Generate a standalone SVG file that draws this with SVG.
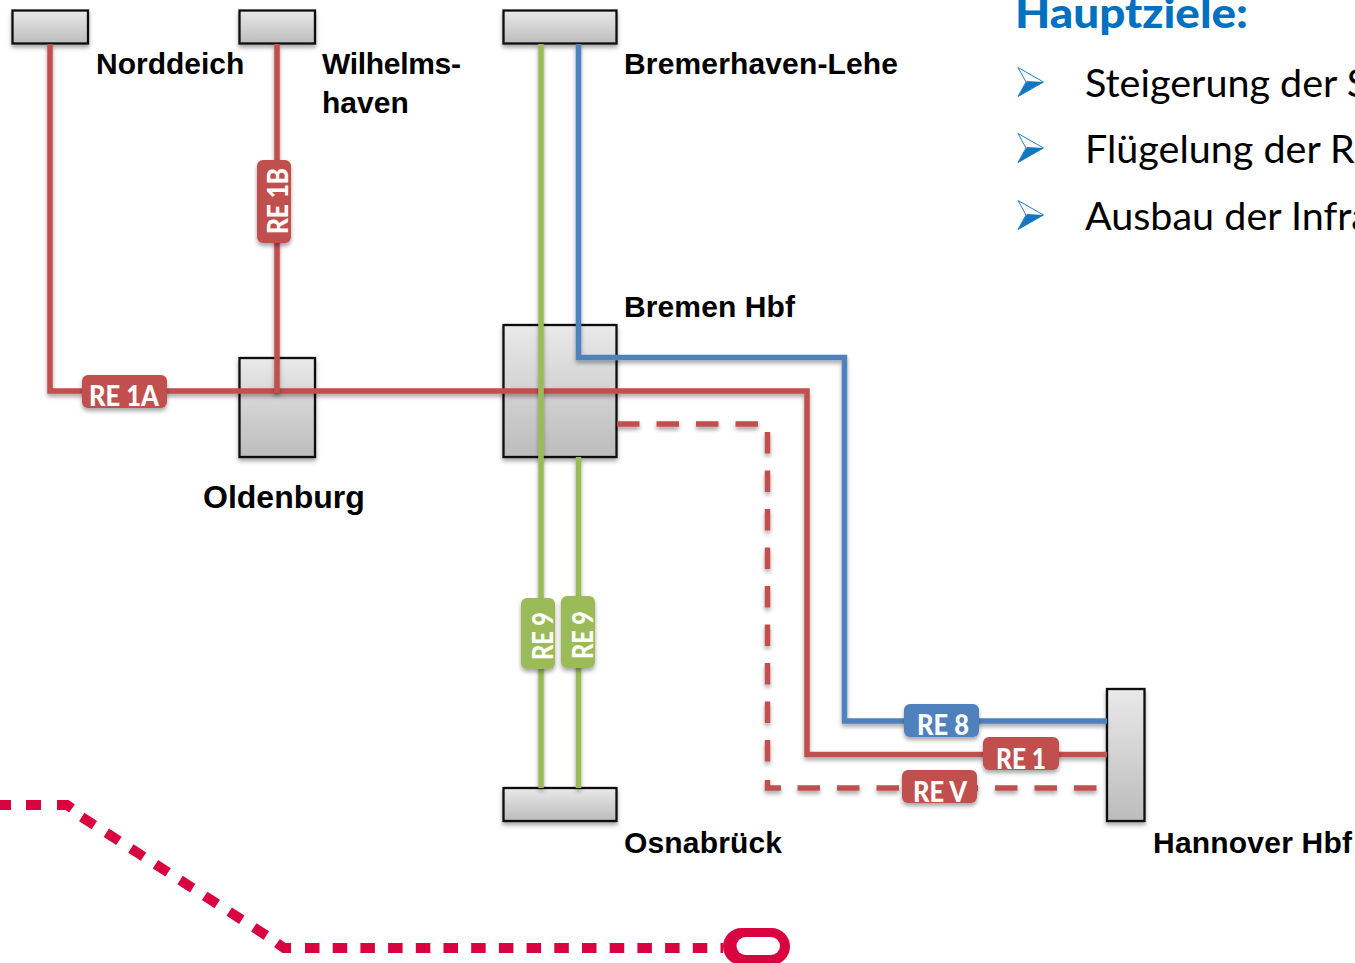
<svg xmlns="http://www.w3.org/2000/svg" xmlns:xlink="http://www.w3.org/1999/xlink" width="1355" height="963" viewBox="0 0 1355 963">
<style>
.box{fill:url(#g);stroke:#0d0d0d;stroke-width:2.3;filter:url(#s)}
.ln{fill:none;stroke-width:5.5;stroke-linejoin:miter;filter:url(#sl)}
.r{stroke:#C0504D}.b{stroke:#4F81BD}.gr{stroke:#9BBB59}
.pill{filter:url(#s)}
.pt{font-family:"Lato","Liberation Sans",sans-serif;font-weight:900;font-size:29px;fill:#fff}
.st{font-family:"Liberation Sans",Arial,sans-serif;font-weight:700;font-size:30px;fill:#000}
.bt{font-family:"Lato","Open Sans",sans-serif;font-size:39.5px;fill:#000}
.dot{fill:none;stroke:#D9043F;stroke-width:10}
</style>
<defs>
<linearGradient id="g" x1="0" y1="0" x2="0" y2="1"><stop offset="0" stop-color="#e9e9e9"/><stop offset="1" stop-color="#bcbcbc"/></linearGradient>
<filter id="s" x="-30%" y="-30%" width="160%" height="160%" filterUnits="objectBoundingBox"><feDropShadow dx="0" dy="3" stdDeviation="2" flood-color="#000" flood-opacity="0.35"/></filter>
<filter id="sl" x="-20" y="-20" width="1400" height="1000" filterUnits="userSpaceOnUse"><feDropShadow dx="0" dy="3" stdDeviation="2" flood-color="#000" flood-opacity="0.35"/></filter>
<g id="arrow"><path d="M1 0.5 L26.5 15 L1 29.5 L9 15 Z" fill="#fff" stroke="#1F7FC4" stroke-width="1"/><path d="M1 29.5 L26.5 15 L10 14 Z" fill="#1477BD"/></g>
</defs>

<g id="route-dots">
<path class="dot" d="M-4,805 H11 M26,805 H41 M57,805 H67 L72,808.5"/>
<path class="dot" stroke-dasharray="15 14.2" d="M81.75,817 L275,941"/>
<path class="dot" d="M277,943 L284,948 H291"/>
<path class="dot" stroke-dasharray="14.5 13.2" d="M305,948 L723,948"/>
<rect x="723" y="928" width="67" height="37" rx="18.5" fill="#D9043F"/>
<rect x="736.5" y="937" width="43.5" height="18" rx="9" fill="#fff"/>
</g>

<g id="node-norddeich"><rect class="box" x="12.5" y="10.5" width="75.5" height="33"/><text class="st" x="96" y="74">Norddeich</text></g>
<g id="node-wilhelmshaven"><rect class="box" x="239.5" y="10.5" width="75.5" height="33"/><text class="st" x="322" y="74" textLength="139">Wilhelms-</text><text class="st" x="322" y="113">haven</text></g>
<g id="node-bremerhaven"><rect class="box" x="503.5" y="10.5" width="113" height="33"/><text class="st" x="624" y="74" textLength="274">Bremerhaven-Lehe</text></g>
<g id="node-oldenburg"><rect class="box" x="239.5" y="358" width="75.5" height="99"/><text class="st" x="203" y="508" style="font-size:32px">Oldenburg</text></g>
<g id="node-bremen"><rect class="box" x="503.5" y="325" width="113" height="132"/><text class="st" x="624" y="317" textLength="171">Bremen Hbf</text></g>
<g id="node-osnabrueck"><rect class="box" x="503.5" y="788" width="113" height="33"/><text class="st" x="624" y="853" textLength="158">Osnabrück</text></g>
<g id="node-hannover"><rect class="box" x="1107" y="689" width="37.5" height="132"/><text class="st" x="1153" y="853" textLength="199">Hannover Hbf</text></g>

<g id="connectors">
<path class="ln r" d="M50,44 V391 H807 V754.5 H1107"/>
<path class="ln r" d="M277,44 V393"/>
<path class="ln r" stroke-dasharray="22.5 17" d="M617,424 H758"/>
<path class="ln r" stroke-dasharray="21.5 17" d="M767.5,432 V762"/>
<path class="ln r" d="M767.5,780 V788 H781"/>
<path class="ln r" stroke-dasharray="22.5 17" d="M797.5,788 H1098"/>
<path class="ln b" d="M578.5,44 V357.5 H844.5 V721 H1107"/>
<path class="ln gr" d="M541,44 V788"/>
<path class="ln gr" d="M578.5,457 V788"/>
</g>

<g id="label-re1a"><rect class="pill" x="82" y="375" width="85" height="33" rx="6" fill="#C0504D"/><text class="pt" x="89" y="406" textLength="70" lengthAdjust="spacingAndGlyphs">RE 1A</text></g>
<g id="label-re1b"><rect class="pill" x="257" y="160" width="34" height="83" rx="6" fill="#C0504D"/><text class="pt" transform="translate(288,234) rotate(-90)" textLength="66" lengthAdjust="spacingAndGlyphs">RE 1B</text></g>
<g id="label-re9a"><rect class="pill" x="521" y="598" width="34" height="71" rx="6" fill="#9BBB59"/><text class="pt" transform="translate(552.5,660) rotate(-90)" textLength="48" lengthAdjust="spacingAndGlyphs">RE 9</text></g>
<g id="label-re9b"><rect class="pill" x="561" y="596" width="34" height="72" rx="6" fill="#9BBB59"/><text class="pt" transform="translate(592.5,659) rotate(-90)" textLength="48" lengthAdjust="spacingAndGlyphs">RE 9</text></g>
<g id="label-re8"><rect class="pill" x="904" y="704" width="75" height="33" rx="6" fill="#4F81BD"/><text class="pt" x="917" y="735" textLength="52" lengthAdjust="spacingAndGlyphs">RE 8</text></g>
<g id="label-re1"><rect class="pill" x="983" y="737" width="76" height="33" rx="6" fill="#C0504D"/><text class="pt" x="996" y="769" textLength="50" lengthAdjust="spacingAndGlyphs">RE 1</text></g>
<g id="label-rev"><rect class="pill" x="902" y="770" width="75" height="33" rx="6" fill="#C0504D"/><text class="pt" x="913" y="802" textLength="54" lengthAdjust="spacingAndGlyphs">RE V</text></g>

<g id="goals">
<text x="1015" y="28" font-family="Lato,'Open Sans',sans-serif" font-weight="900" font-size="41" fill="#0070C0" textLength="233" lengthAdjust="spacingAndGlyphs">Hauptziele:</text>
<use xlink:href="#arrow" href="#arrow" x="1017" y="67"/>
<use xlink:href="#arrow" href="#arrow" x="1017" y="133"/>
<use xlink:href="#arrow" href="#arrow" x="1017" y="200"/>
<text class="bt" x="1085" y="97">Steigerung der S</text>
<text class="bt" x="1085" y="163">Flügelung der R</text>
<text class="bt" x="1085" y="230">Ausbau der Infra</text>
</g>
</svg>
